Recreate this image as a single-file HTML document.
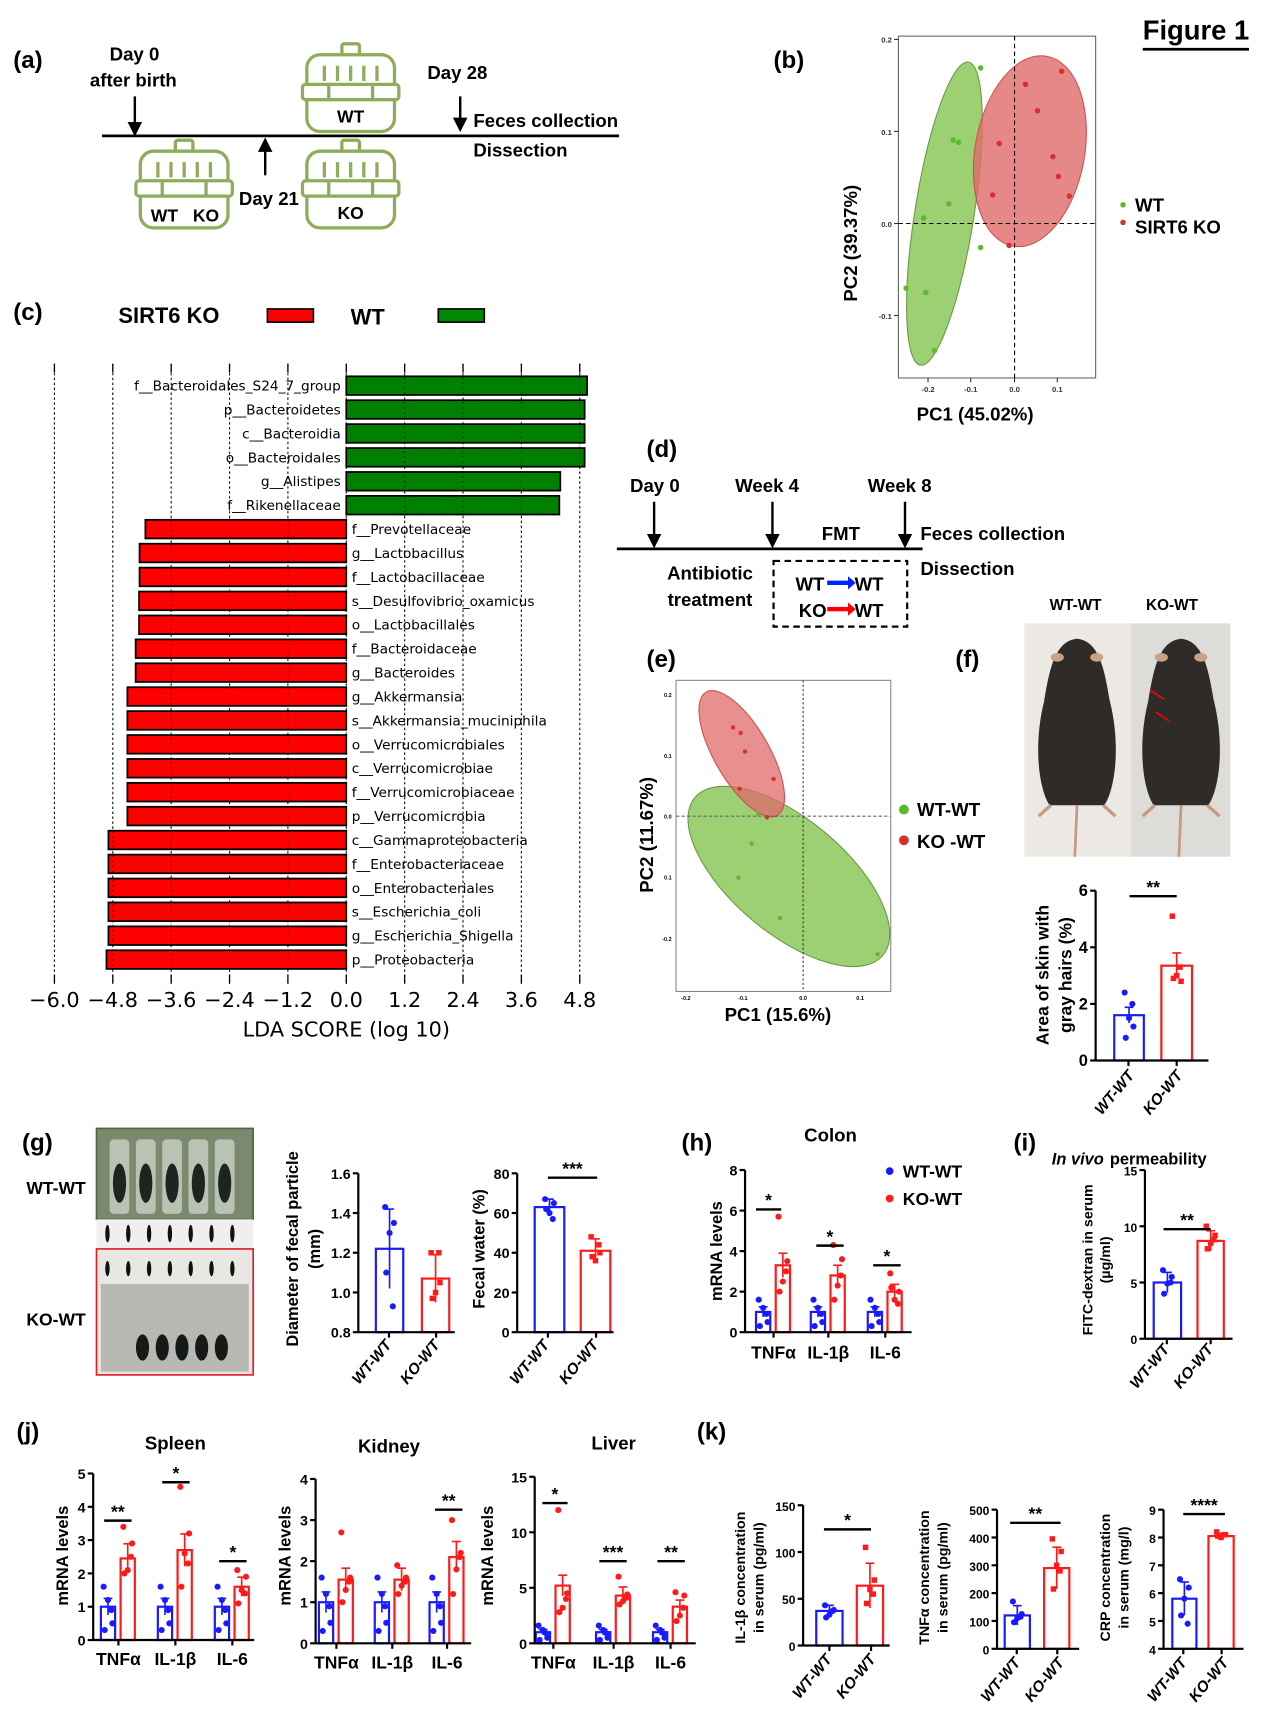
<!DOCTYPE html>
<html><head><meta charset="utf-8"><style>
html,body{margin:0;padding:0;background:#fff}
svg{display:block}
.c{font-family:"Liberation Sans Narrow","Liberation Sans",sans-serif;font-weight:bold}
.a{font-family:"Liberation Sans",sans-serif;font-weight:bold}
.d{font-family:"DejaVu Sans",sans-serif}
</style></head><body>
<svg id="s" width="1271" height="1720" viewBox="0 0 1160 1570" xmlns="http://www.w3.org/2000/svg">
<defs>
<g id="cage" fill="#fff" stroke="#8fac5a" stroke-width="3">
<rect x="-8" y="-42" width="16" height="12" rx="2"/>
<rect x="-40" y="-32" width="80" height="70" rx="12"/>
<rect x="-44" y="-5" width="88" height="14" rx="3"/>
<line x1="-24" y1="-22" x2="-24" y2="-8"/><line x1="-12" y1="-22" x2="-12" y2="-8"/><line x1="0" y1="-22" x2="0" y2="-8"/><line x1="12" y1="-22" x2="12" y2="-8"/><line x1="24" y1="-22" x2="24" y2="-8"/>
<line x1="-20" y1="-5" x2="-20" y2="9"/><line x1="20" y1="-5" x2="20" y2="9"/>
</g>
<marker id="ah" markerWidth="6" markerHeight="6" refX="3" refY="3" orient="auto"><path d="M0,0 L6,3 L0,6z" fill="#000"/></marker>
</defs>
</svg>
<script>
const S=document.getElementById('s');const NS='http://www.w3.org/2000/svg';
function E(tag,attrs,txt){const e=document.createElementNS(NS,tag);for(const k in attrs)e.setAttribute(k,attrs[k]);if(txt!==undefined)e.textContent=txt;S.appendChild(e);return e;}
function T(x,y,t,sz,cls,anchor,extra){const a={x:x,y:y,'font-size':sz,class:cls||'c','text-anchor':anchor||'start'};if(extra)Object.assign(a,extra);return E('text',a,t);}
function L(x1,y1,x2,y2,sw,col,extra){const a={x1,y1,x2,y2,stroke:col||'#000','stroke-width':sw||1.5};if(extra)Object.assign(a,extra);return E('line',a);}
function Arrow(x,y1,y2){L(x,y1,x,y2,2.2,'#000',{'marker-end':'url(#ah)'});}
function rot(x,y,t,sz,cls){return T(x,y,t,sz,cls,'middle',{transform:`rotate(-90 ${x} ${y})`});}
function rot45(x,y,t,sz){return T(x,y,t,sz,'a','end',{transform:`rotate(-50 ${x} ${y})`,'font-style':'italic'});}

T(1043,36,'Figure 1',25,'c');L(1043,45,1140,45,2.5);
// (a)
T(12,62,'(a)',22,'c');
T(100,55,'Day 0',17,'c');T(82,79,'after birth',17,'c');
Arrow(123,88,118);L(93,124,565,124,2.5);
E('use',{href:'#cage',x:320,y:82});T(320,112,'WT',16,'c','middle');
E('use',{href:'#cage',x:168,y:170});T(150,202,'WT',16,'c','middle');T(188,202,'KO',16,'c','middle');
E('use',{href:'#cage',x:320,y:170});T(320,200,'KO',16,'c','middle');
L(242,160,242,132,2.2,'#000',{'marker-end':'url(#ah)'});
T(218,187,'Day 21',17,'c');T(390,72,'Day 28',17,'c');Arrow(420,88,114);
T(432,116,'Feces collection',17,'c');T(432,143,'Dissection',17,'c');

// (b)
T(706,62,'(b)',22,'c');
E('rect',{x:820,y:33,width:180,height:312,fill:'none',stroke:'#666','stroke-width':1});
E('ellipse',{cx:862,cy:195,rx:27,ry:140,fill:'#8cc85a','fill-opacity':0.85,stroke:'#6a9a40',transform:'rotate(9 862 195)'});
E('ellipse',{cx:940,cy:138,rx:50,ry:88,fill:'#e06a6a','fill-opacity':0.8,stroke:'#d05050',transform:'rotate(10 940 138)'});
L(926,33,926,345,1,'#000',{'stroke-dasharray':'4,3'});L(820,204,1000,204,1,'#000',{'stroke-dasharray':'4,3'});
[[895,62],[870,128],[875,130],[866,186],[843,199],[895,226],[827,263],[845,267],[853,320]].forEach(p=>E('circle',{cx:p[0],cy:p[1],r:2.5,fill:'#5cb82c'}));
[[936,77],[969,65],[947,101],[961,143],[912,131],[906,178],[966,161],[976,179],[921,224]].forEach(p=>E('circle',{cx:p[0],cy:p[1],r:2.5,fill:'#d83030'}));
[[847,'-0.2'],[886,'-0.1'],[926,'0.0'],[965,'0.1']].forEach(p=>{L(p[0],345,p[0],349,1,'#333');T(p[0],358,p[1],7,'a','middle',{fill:'#333','font-weight':'normal'});});
[[36,'0.2'],[120,'0.1'],[204,'0.0'],[288,'-0.1']].forEach(p=>{L(816,p[0],820,p[0],1,'#333');T(814,p[0]+3,p[1],7,'a','end',{fill:'#333','font-weight':'normal'});});
T(890,384,'PC1 (45.02%)',17,'a','middle');rot(782,222,'PC2 (39.37%)',17,'a');
E('circle',{cx:1025,cy:187,r:2.5,fill:'#5cb82c'});T(1036,193,'WT',17,'c');
E('circle',{cx:1025,cy:203,r:2.5,fill:'#d83030'});T(1036,213,'SIRT6 KO',17,'c');

// (c)
T(12,292,'(c)',22,'c');T(108,295,'SIRT6 KO',20,'c');
E('rect',{x:244,y:282,width:42,height:12,fill:'#f00',stroke:'#000','stroke-width':1.5});
T(320,296,'WT',20,'c');E('rect',{x:400,y:282,width:42,height:12,fill:'#080',stroke:'#000','stroke-width':1.5});
const X0=316,U=44.4;
for(let i=-5;i<=4;i++){const x=X0+i*1.2*U;L(x,332,x,898,1,'#000',{'stroke-dasharray':'1.5,3'});L(x,332,x,340,1.2);L(x,890,x,898,1.2);
 T(x,919,(i<0?'\u2212':'')+Math.abs(i*1.2).toFixed(1),19,'d','middle');}
const taxa=[['f__Bacteroidales_S24_7_group',4.95],['p__Bacteroidetes',4.9],['c__Bacteroidia',4.9],['o__Bacteroidales',4.9],['g__Alistipes',4.4],['f__Rikenellaceae',4.38],
['f__Prevotellaceae',-4.13],['g__Lactobacillus',-4.25],['f__Lactobacillaceae',-4.25],['s__Desulfovibrio_oxamicus',-4.26],['o__Lactobacillales',-4.26],['f__Bacteroidaceae',-4.33],['g__Bacteroides',-4.33],
['g__Akkermansia',-4.5],['s__Akkermansia_muciniphila',-4.5],['o__Verrucomicrobiales',-4.5],['c__Verrucomicrobiae',-4.5],['f__Verrucomicrobiaceae',-4.5],['p__Verrucomicrobia',-4.5],
['c__Gammaproteobacteria',-4.89],['f__Enterobacteriaceae',-4.89],['o__Enterobacteriales',-4.89],['s__Escherichia_coli',-4.89],['g__Escherichia_Shigella',-4.89],['p__Proteobacteria',-4.93]];
taxa.forEach((t,i)=>{const y=352+i*21.83;const v=t[1];const w=Math.abs(v)*U;
 E('rect',{x:v>0?X0:X0-w,y:y-8.5,width:w,height:17,fill:v>0?'#008000':'#f00',stroke:'#000','stroke-width':1.6});
 if(v>0)T(311,y+4.5,t[0],12.5,'d','end');else T(321,y+4.5,t[0],12.5,'d','start');});
for(let i=-5;i<=4;i++){const x=X0+i*1.2*U;L(x,340,x,890,1,'#000',{'stroke-dasharray':'1.5,3','stroke-opacity':0.6});}
T(316,946,'LDA SCORE (log 10)',19,'d','middle');

// (d)
T(590,417,'(d)',22,'c');
T(575,449,'Day 0',17,'c');T(671,449,'Week 4',17,'c');T(792,449,'Week 8',17,'c');
Arrow(597,458,494);Arrow(705,458,494);Arrow(826,458,494);L(563,501,842,501,2.5);
T(750,493,'FMT',17,'c');T(840,493,'Feces collection',17,'c');T(840,525,'Dissection',17,'c');
T(648,529,'Antibiotic',17,'c','middle');T(648,553,'treatment',17,'c','middle');
E('rect',{x:706,y:512,width:122,height:60,fill:'none',stroke:'#000','stroke-width':2,'stroke-dasharray':'6,4'});
T(726,539,'WT',17,'c');T(780,539,'WT',17,'c');T(729,563,'KO',17,'c');T(780,563,'WT',17,'c');
E('rect',{x:755,y:530,width:22,height:4,fill:'#0020ff'});E('path',{d:'M774,526 L781,532 L774,538z',fill:'#0020ff'});
E('rect',{x:755,y:554,width:22,height:4,fill:'#f00'});E('path',{d:'M774,550 L781,556 L774,562z',fill:'#f00'});

// (e)
T(590,609,'(e)',22,'c');
E('rect',{x:617,y:621,width:196,height:284,fill:'none',stroke:'#888','stroke-width':1});
E('ellipse',{cx:720,cy:800,rx:112,ry:52,fill:'#8cc85a','fill-opacity':0.85,stroke:'#6a9a40',transform:'rotate(40 720 800)'});
E('ellipse',{cx:677,cy:688,rx:65,ry:25,fill:'#e06a6a','fill-opacity':0.75,stroke:'#d05050',transform:'rotate(60 677 688)'});
L(733,621,733,905,1,'#333',{'stroke-dasharray':'2,2'});L(617,745,813,745,1,'#666',{'stroke-dasharray':'3,2'});
[[669,664],[676,669],[680,686],[706,711],[675,720],[700,746]].forEach(p=>E('circle',{cx:p[0],cy:p[1],r:2,fill:'#d83030'}));
[[686,770],[674,801],[712,838],[801,871],[692,743]].forEach(p=>E('circle',{cx:p[0],cy:p[1],r:2,fill:'#5cb82c'}));
[[626,'-0.2'],[678,'-0.1'],[733,'0.0'],[785,'0.1']].forEach(p=>T(p[0],913,p[1],5,'a','middle',{'font-weight':'normal'}));
[[634,'0.2'],[690,'0.1'],[745,'0.0'],[801,'0.1'],[857,'-0.2']].forEach(p=>T(613,p[0]+2,p[1],5,'a','end',{'font-weight':'normal'}));
T(710,932,'PC1 (15.6%)',17,'a','middle');rot(596,762,'PC2 (11.67%)',17,'a');
E('circle',{cx:825,cy:739,r:4.5,fill:'#5cb82c'});T(837,745,'WT-WT',17,'a');
E('circle',{cx:825,cy:767,r:4.5,fill:'#d83030'});T(837,774,'KO -WT',17,'a');

// (f)
T(872,609,'(f)',22,'c');T(958,557,'WT-WT',14,'a');T(1046,557,'KO-WT',14,'a');
E('rect',{x:935,y:569,width:97,height:213,fill:'#ece9e5'});E('rect',{x:1032,y:569,width:91,height:213,fill:'#dedcd9'});
function mouse(cx){E('path',{d:`M${cx},${583} C${cx+20},${585} ${cx+25},${610} ${cx+30},${640} C${cx+40},${680} ${cx+35},${720} ${cx+25},${735} L${cx-25},${735} C${cx-35},${720} ${cx-40},${680} ${cx-30},${640} C${cx-25},${610} ${cx-20},${585} ${cx},${583}z`,fill:'#2e2b29'});
 L(cx,735,cx-2,782,2.5,'#c49a80');E('ellipse',{cx:cx-18,cy:600,rx:6,ry:4,fill:'#c9a184'});E('ellipse',{cx:cx+18,cy:600,rx:6,ry:4,fill:'#c9a184'});
 L(cx-24,735,cx-35,745,3,'#c49a80');L(cx+24,735,cx+35,745,3,'#c49a80');}
mouse(983);mouse(1078);
L(1050,630,1062,638,1.5,'#f00');L(1055,650,1067,658,1.5,'#f00');

function chart(c){const sc=(c.y0-c.y1)/(c.vmax-c.vmin);const Y=v=>c.y0-(v-c.vmin)*sc;
 c.bars.forEach(b=>{const y=Y(b.v);E('rect',{x:b.x1,y:y,width:b.x2-b.x1,height:c.y0-y,fill:'#fff',stroke:b.col,'stroke-width':2});
  const m=(b.x1+b.x2)/2;const e=(b.e||0.1*(b.v-c.vmin))*sc;L(m,y-e,m,y+e,1.5,b.col);L(m-4,y-e,m+4,y-e,1.5,b.col);
  (b.p||[]).forEach((p,i)=>{const px=m+([-4,4,0,-3,3][i%5]);const py=Y(p);if(b.sq)E('rect',{x:px-2.5,y:py-2.5,width:5,height:5,fill:b.col});else E('circle',{cx:px,cy:py,r:2.8,fill:b.col});});});
 L(c.ax,c.y0,c.ax,c.y1,2);L(c.ax,c.y0,c.xend,c.y0,2);
 c.ticks.forEach(t=>{const y=Y(t);L(c.ax-5,y,c.ax,y,2);T(c.ax-7,y+5,String(t),c.fs||13,'c','end');});
 (c.xt||[]).forEach(x=>L(x,c.y0,x,c.y0+5,2));
 (c.sig||[]).forEach(s=>{L(s[0],s[2],s[1],s[2],2.2);T((s[0]+s[1])/2,s[2]-3,s[3],16,'a','middle');});}
const B='#1a1aff',R='#ff1a1a';
chart({ax:1000,y0:968,y1:813,vmin:0,vmax:6,ticks:[0,2,4,6],xend:1103,fs:15,xt:[1030,1074],
 bars:[{x1:1017,x2:1044,v:1.6,col:B,e:0.28,p:[2.4,1.2,1.5,0.8,2.0]},{x1:1060,x2:1088,v:3.35,col:R,e:0.45,sq:1,p:[5.1,2.8,3.0,2.9,3.3]}],sig:[[1031,1074,818,'**']]});
rot(957,890,'Area of skin with',16,'a');rot(978,890,'gray hairs (%)',16,'a');
rot45(1036,982,'WT-WT',14);rot45(1080,982,'KO-WT',14);

// (g)
T(20,1050,'(g)',22,'c');
E('rect',{x:88,y:1030,width:143,height:83,fill:'#7b8a6f',stroke:'#4a6a3a','stroke-width':1.5});
for(let i=0;i<5;i++)E('rect',{x:100+i*24,y:1040,width:18,height:68,fill:'#c9cfc4',rx:4,'fill-opacity':0.8}),E('ellipse',{cx:109+i*24,cy:1080,rx:6,ry:18,fill:'#1e2420'});
E('rect',{x:88,y:1113,width:143,height:27,fill:'#f0efed'});
E('rect',{x:88,y:1140,width:143,height:115,fill:'#e9e7e4',stroke:'#e02020','stroke-width':1.5});
for(let i=0;i<7;i++){E('ellipse',{cx:98+i*19,cy:1126,rx:2,ry:8,fill:'#111'});E('ellipse',{cx:98+i*19,cy:1158,rx:2,ry:7,fill:'#111'});}
E('rect',{x:92,y:1172,width:135,height:80,fill:'#b8b8b2'});for(let i=0;i<5;i++)E('ellipse',{cx:130+i*18,cy:1230,rx:6,ry:12,fill:'#151a18'});
T(24,1090,'WT-WT',16,'c');T(24,1210,'KO-WT',16,'c');
chart({ax:327,y0:1216,y1:1071,vmin:0.8,vmax:1.6,ticks:[0.8,1.0,1.2,1.4,1.6].map(v=>v.toFixed(1)),xend:415,xt:[355,398],
 bars:[{x1:343,x2:368,v:1.22,col:B,e:0.2,p:[1.43,1.35,1.3,1.1,0.93]},{x1:385,x2:410,v:1.07,col:R,e:0.12,sq:1,p:[1.2,1.05,1.0,0.97,1.2]}]});
rot(272,1140,'Diameter of fecal particle',15,'a');rot(292,1140,'(mm)',15,'a');
rot45(358,1228,'WT-WT',14);rot45(402,1228,'KO-WT',14);
chart({ax:472,y0:1216,y1:1071,vmin:0,vmax:80,ticks:[0,20,40,60,80],xend:560,xt:[500,544],
 bars:[{x1:488,x2:515,v:63,col:B,e:4,p:[67,65,60,62,57]},{x1:530,x2:557,v:41,col:R,e:6,sq:1,p:[48,40,36,38,44]}],sig:[[500,545,1075,'***']]});
rot(442,1140,'Fecal water (%)',15,'a');rot45(502,1228,'WT-WT',14);rot45(547,1228,'KO-WT',14);

// (h)
T(622,1050,'(h)',22,'c');T(758,1042,'Colon',17,'c','middle');
function mchart(ax,y0,y1,vmax,ticks,groups,reds,sig,xend,pts){const bars=[];groups.forEach((g,i)=>{bars.push({x1:g-16,x2:g-3,v:1,col:B,e:0.25,p:[1.6,0.5,1.2,0.3,0.9]});bars.push({x1:g+2,x2:g+15,v:reds[i],col:R,e:reds[i]*0.18,p:pts[i]});});
 chart({ax,y0,y1,vmin:0,vmax,ticks,xend,xt:groups,bars,sig});}
mchart(680,1216,1068,8,[0,2,4,6,8],[706,756,808],[3.3,2.8,2.0],[[690,713,1104,'*'],[745,770,1137,'*'],[797,822,1155,'*']],832,[[5.7,3.5,2.5,2.0,3.0],[4.3,3.6,2.3,1.6,2.8],[2.9,2.0,1.6,2.2,1.4]]);
rot(659,1142,'mRNA levels',15,'a');
[['TNF\u03b1',706],['IL-1\u03b2',756],['IL-6',808]].forEach(p=>T(p[1],1240,p[0],16,'c','middle'));
E('circle',{cx:812,cy:1069,r:3.5,fill:B});T(824,1075,'WT-WT',16,'c');E('circle',{cx:812,cy:1094,r:3.5,fill:R});T(824,1100,'KO-WT',16,'c');

// (i)
T(925,1050,'(i)',22,'c');
T(960,1063,'In vivo',15,'c',null,{'font-style':'italic'});T(1013,1063,'permeability',15,'c');
chart({ax:1045,y0:1222,y1:1068,vmin:0,vmax:15,ticks:[0,5,10,15],xend:1125,fs:11,xt:[1065,1105],
 bars:[{x1:1053,x2:1078,v:5,col:B,e:0.9,p:[6.1,5.5,4.9,4.0,5.0]},{x1:1093,x2:1117,v:8.7,col:R,e:0.9,sq:1,p:[10,9.2,8.5,8.0,8.8]}],sig:[[1062,1105,1122,'**']]});
rot(997,1150,'FITC-dextran in serum',13,'a');rot(1013,1150,'(\u00b5g/ml)',13,'a');
rot45(1068,1232,'WT-WT',14);rot45(1108,1232,'KO-WT',14);

// (j)
T(15,1314,'(j)',22,'c');
T(160,1323,'Spleen',17,'c','middle');T(355,1326,'Kidney',17,'c','middle');T(560,1323,'Liver',17,'c','middle');
mchart(85,1497,1345,5,[0,1,2,3,4,5],[108,160,212],[2.45,2.7,1.6],[[95,120,1388,'**'],[148,173,1353,'*'],[200,225,1425,'*']],232,[[3.4,2.9,2.1,2.0,2.5],[4.6,3.2,2.6,1.6,2.3],[2.1,1.9,1.5,1.1,1.4]]);
mchart(288,1500,1350,4,[0,1,2,3,4],[307,358,408],[1.55,1.55,2.1],[[397,422,1378,'**']],430,[[2.7,1.6,1.3,1.0,1.5],[1.9,1.6,1.4,1.2,1.5],[3.0,2.2,1.8,1.2,2.1]]);
mchart(488,1500,1348,15,[0,5,10,15],[505,560,612],[5.2,4.3,3.3],[[495,518,1372,'*'],[547,572,1425,'***'],[600,625,1425,'**']],635,[[12,4.5,3.2,2.8,4.0],[6.0,4.4,3.8,3.5,4.1],[4.6,4.3,2.5,2.0,3.2]]);
rot(62,1420,'mRNA levels',15,'a');rot(265,1420,'mRNA levels',15,'a');rot(450,1420,'mRNA levels',15,'a');
[[108,160,212,1520],[307,358,408,1523],[505,560,612,1523]].forEach(g=>{T(g[0],g[3],'TNF\u03b1',16,'c','middle');T(g[1],g[3],'IL-1\u03b2',16,'c','middle');T(g[2],g[3],'IL-6',16,'c','middle');});

// (k)
T(636,1314,'(k)',22,'c');
chart({ax:733,y0:1502,y1:1374,vmin:0,vmax:150,ticks:[0,50,100,150],xend:812,fs:11,xt:[757,795],
 bars:[{x1:745,x2:769,v:37,col:B,e:6,p:[43,38,33,30,37]},{x1:782,x2:806,v:64,col:R,e:24,sq:1,p:[105,70,60,45,55]}],sig:[[752,795,1396,'*']]});
rot(680,1440,'IL-1\u03b2 concentration',13,'a');rot(697,1440,'in serum (pg/ml)',13,'a');
rot45(760,1515,'WT-WT',14);rot45(800,1515,'KO-WT',14);
chart({ax:910,y0:1505,y1:1378,vmin:0,vmax:500,ticks:[0,100,200,300,400,500],xend:985,fs:11,xt:[928,965],
 bars:[{x1:917,x2:940,v:120,col:B,e:35,p:[170,125,110,95,115]},{x1:953,x2:976,v:290,col:R,e:75,sq:1,p:[395,350,300,215,280]}],sig:[[922,968,1390,'**']]});
rot(848,1440,'TNF\u03b1 concentration',13,'a');rot(865,1440,'in serum (pg/ml)',13,'a');
rot45(932,1518,'WT-WT',14);rot45(972,1518,'KO-WT',14);
chart({ax:1062,y0:1505,y1:1378,vmin:4,vmax:9,ticks:[4,5,6,7,8,9],xend:1135,fs:11,xt:[1080,1115],
 bars:[{x1:1070,x2:1092,v:5.8,col:B,e:0.6,p:[6.5,6.2,5.8,5.2,4.9]},{x1:1103,x2:1126,v:8.05,col:R,e:0.1,sq:1,p:[8.2,8.1,8.0,8.05,8.1]}],sig:[[1080,1118,1382,'****']]});
rot(1013,1440,'CRP concentration',13,'a');rot(1030,1440,'in serum (mg/l)',13,'a');
rot45(1084,1518,'WT-WT',14);rot45(1122,1518,'KO-WT',14);
</script>
</body></html>
